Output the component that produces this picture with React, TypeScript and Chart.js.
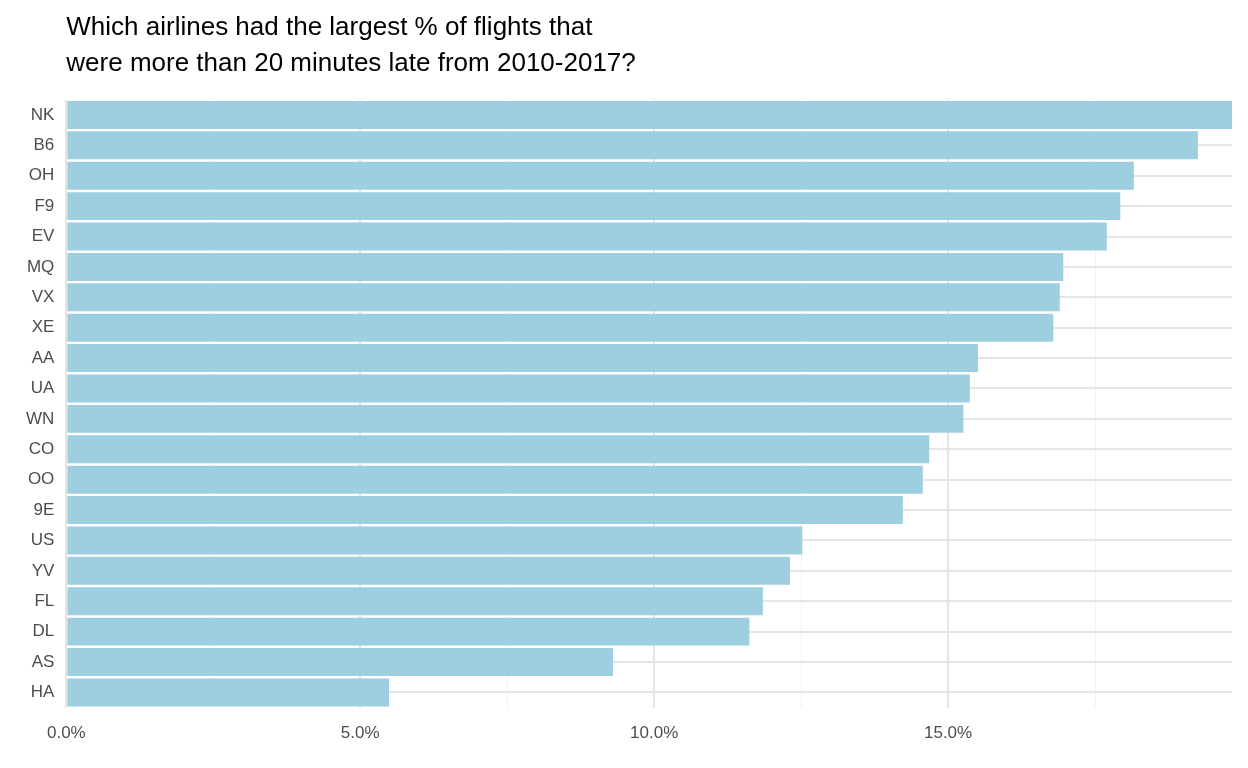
import React, { useEffect, useRef } from "react";
import { Chart, registerables } from "chart.js";
Chart.register(...registerables);

const carriers = ["NK","B6","OH","F9","EV","MQ","VX","XE","AA","UA","WN","CO","OO","9E","US","YV","FL","DL","AS","HA"];
const latePct = [19.83,19.25,18.16,17.93,17.70,16.96,16.90,16.79,15.51,15.37,15.26,14.68,14.57,14.23,12.52,12.31,11.85,11.62,9.30,5.49];
const titleLines = ["Which airlines had the largest % of flights that","were more than 20 minutes late from 2010-2017?"];

const isMult = (v: number, m: number) => Math.abs(v / m - Math.round(v / m)) < 1e-6;

export default function App() {
  const ref = useRef<HTMLCanvasElement>(null);
  useEffect(() => {
    const chart = new Chart(ref.current!, {
      type: "bar",
      data: { labels: carriers, datasets: [{ data: latePct, backgroundColor: "#9ecfe0", barPercentage: 0.92, categoryPercentage: 1 }] },
      options: {
        indexAxis: "y",
        animation: false,
        responsive: false,
        layout: { padding: { left: 14, right: 15, top: 10, bottom: 8 } },
        plugins: {
          legend: { display: false },
          tooltip: { enabled: false },
          title: {
            display: true, text: titleLines, align: "start", fullSize: false, color: "#000",
            font: { family: "Liberation Sans", size: 26, weight: "normal", lineHeight: 1.38 },
            padding: { top: 0, bottom: 18 },
          },
        },
        scales: {
          x: {
            min: 0, max: 19.83,
            border: { display: false },
            grid: {
              drawTicks: false,
              color: (c: any) => { const v = c.tick?.value ?? 0; return isMult(v, 5) ? "#e5e5e5" : isMult(v, 2.5) ? "#f2f2f2" : "rgba(0,0,0,0)"; },
              lineWidth: (c: any) => (isMult(c.tick?.value ?? 0, 5) ? 2 : 1),
            },
            ticks: {
              stepSize: 2.5, autoSkip: false, padding: 16, color: "#4d4d4d",
              font: { family: "Liberation Sans", size: 17 },
              callback: (v: any) => (isMult(Number(v), 5) ? Number(v).toFixed(1) + "%" : ""),
            },
          },
          y: {
            border: { display: false },
            grid: { drawTicks: false, color: "#e5e5e5", lineWidth: 2, offset: false },
            ticks: { padding: 12, color: "#4d4d4d", font: { family: "Liberation Sans", size: 17 } },
          },
        },
      },
    });
    return () => chart.destroy();
  }, []);
  return (
    <div style={{ position: "fixed", left: 0, top: 0, width: 1248, height: 768, background: "#fff" }}>
      <canvas ref={ref} width={1248} height={768} />
    </div>
  );
}
